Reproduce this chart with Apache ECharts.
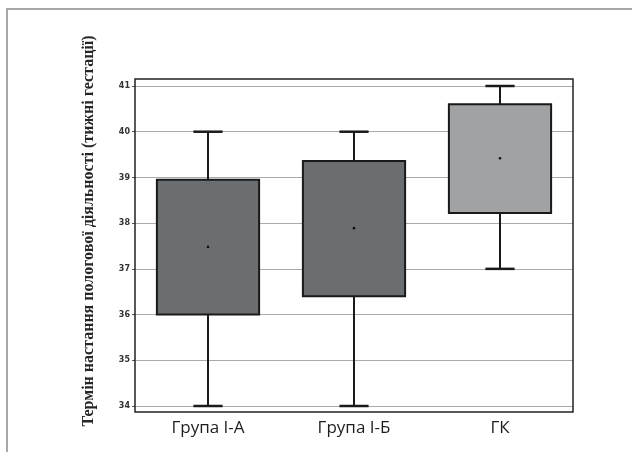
<!DOCTYPE html>
<html>
<head>
<meta charset="utf-8">
<script src="https://cdn.jsdelivr.net/npm/echarts@6/dist/echarts.min.js"></script>
<style>
html,body{margin:0;padding:0;background:#fff;}
#chart{width:632px;height:452px;}
</style>
</head>
<body>
<div id="chart"></div>
<script>
var categories = ['Група І-А', 'Група І-Б', 'ГК'];
var whiskerLow = [34, 34, 37];
var q1Values = [36.0, 36.4, 38.22];
var meanValues = [37.48, 37.89, 39.42];
var q3Values = [38.95, 39.36, 40.6];
var whiskerHigh = [40, 40, 41];
var yTicks = [34, 35, 36, 37, 38, 39, 40, 41];
var yTitle = 'Термін настання пологової діяльності (тижні гестації)';

var boxColors = ['#6b6e70', '#6b6e70', '#a0a2a3'];

var data = categories.map(function (c, i) {
  return [i, whiskerLow[i], q1Values[i], meanValues[i], q3Values[i], whiskerHigh[i]];
});

var chart = echarts.init(document.getElementById('chart'));

function renderItem(params, api) {
  var idx = api.value(0);
  var pLow = api.coord([idx, api.value(1)]);
  var pQ1 = api.coord([idx, api.value(2)]);
  var pMean = api.coord([idx, api.value(3)]);
  var pQ3 = api.coord([idx, api.value(4)]);
  var pHigh = api.coord([idx, api.value(5)]);
  var band = api.size([1, 0])[0];
  var bw = band * 0.7;
  var cw = band * 0.2;
  var x = pQ1[0];
  var lineStyle = {stroke: '#1a1a1a', lineWidth: 2, fill: null};
  return {
    type: 'group',
    children: [
      {type: 'line', shape: {x1: x, y1: pHigh[1], x2: x, y2: pQ3[1]}, style: lineStyle},
      {type: 'line', shape: {x1: x, y1: pQ1[1], x2: x, y2: pLow[1]}, style: lineStyle},
      {type: 'line', shape: {x1: x - cw / 2, y1: pHigh[1], x2: x + cw / 2, y2: pHigh[1]}, style: {stroke: '#1a1a1a', lineWidth: 2.5}},
      {type: 'line', shape: {x1: x - cw / 2, y1: pLow[1], x2: x + cw / 2, y2: pLow[1]}, style: {stroke: '#1a1a1a', lineWidth: 2.5}},
      {type: 'rect', shape: {x: x - bw / 2, y: pQ3[1], width: bw, height: pQ1[1] - pQ3[1]},
        style: {fill: boxColors[idx], stroke: '#1a1a1a', lineWidth: 2}},
      {type: 'circle', shape: {cx: pMean[0], cy: pMean[1], r: 1.3}, style: {fill: '#111'}}
    ]
  };
}

chart.setOption({
  animation: false,
  backgroundColor: '#ffffff',
  grid: {left: 135, right: 59, top: 86, bottom: 46, containLabel: false},
  xAxis: {
    type: 'category',
    data: categories,
    axisLine: {show: false},
    axisTick: {show: false},
    axisLabel: {fontFamily: 'Open Sans', fontSize: 17, color: '#1e1e1e', margin: 14},
    splitLine: {show: false}
  },
  yAxis: {
    type: 'value',
    min: yTicks[0],
    max: yTicks[yTicks.length - 1],
    interval: 1,
    axisLine: {show: false},
    axisTick: {show: true, length: 3, lineStyle: {color: '#555'}},
    axisLabel: {fontFamily: 'DejaVu Sans', fontWeight: 'bold', fontSize: 8, color: '#333', margin: 5},
    splitLine: {show: true, lineStyle: {color: '#aaaaaa', width: 1}}
  },
  graphic: [
    {type: 'rect', shape: {x: 7, y: 9, width: 700, height: 500}, z: 0,
      style: {fill: null, stroke: '#a9a9a9', lineWidth: 2}},
    {type: 'rect', shape: {x: 135, y: 79, width: 438, height: 333}, z: 10,
      style: {fill: null, stroke: '#222', lineWidth: 1.5}},
    {type: 'text', x: 89, y: 231, rotation: Math.PI / 2, z: 10,
      style: {text: yTitle, fontFamily: 'Liberation Serif', fontWeight: 'bold', fontSize: 16,
        fill: '#262626', align: 'center', verticalAlign: 'middle'}}
  ],
  series: [{
    type: 'custom',
    renderItem: renderItem,
    encode: {x: 0, y: [1, 2, 3, 4, 5]},
    data: data,
    z: 5
  }]
});
</script>
</body>
</html>
